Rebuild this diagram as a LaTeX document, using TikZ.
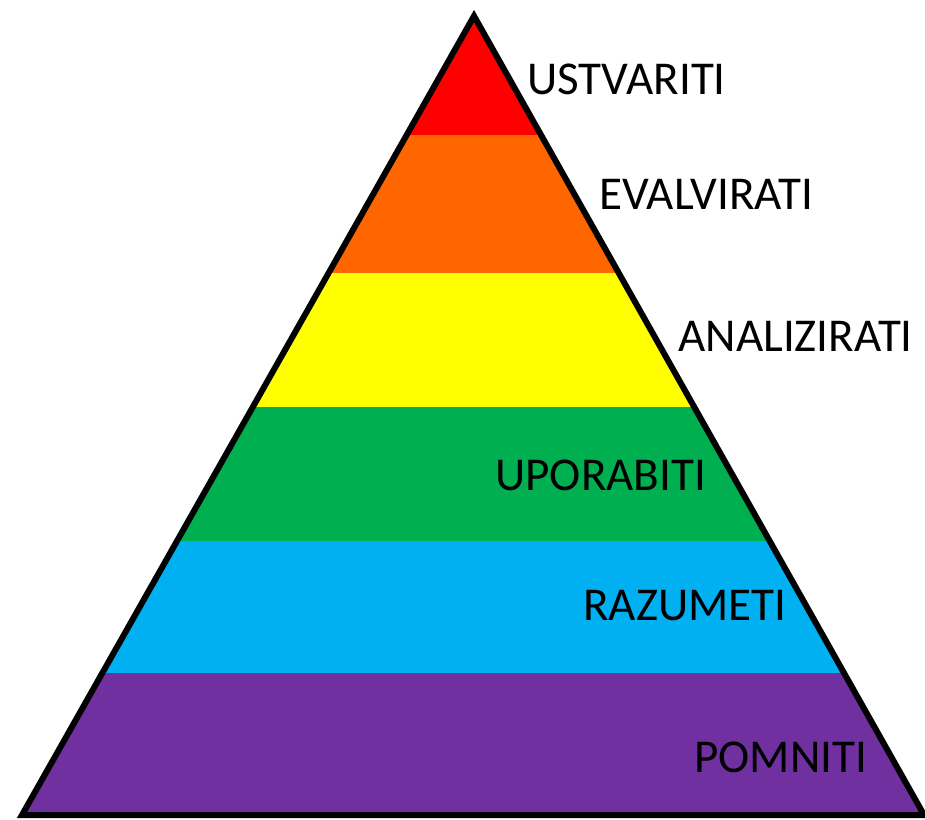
\documentclass[tikz,border=0pt]{standalone}
\usepackage{fontspec}
\setmainfont{Carlito}
\usetikzlibrary{positioning,calc}
\definecolor{lRed}{HTML}{FF0000}
\definecolor{lOrange}{HTML}{FF6600}
\definecolor{lYellow}{HTML}{FFFF00}
\definecolor{lGreen}{HTML}{00B050}
\definecolor{lBlue}{HTML}{00B0F0}
\definecolor{lPurple}{HTML}{7030A0}
\tikzset{
  pOutline/.style={line width=0.12cm, line join=miter, miter limit=20, draw=black},
  pLabel/.style={anchor=base west, inner sep=0pt, font=\fontsize{26.8}{32}\selectfont},
}

\begin{document}
\begin{tikzpicture}[x=0.02cm, y=-0.02cm]
\useasboundingbox (0,0) rectangle (925,820);
\coordinate (top) at (474,16); \coordinate (bl) at (22,815); \coordinate (br) at (924,815);
% bands, from the apex down
\begin{scope}
\clip (top) -- (bl) -- (br) -- cycle;
\foreach \ya/\yb/\col in {0/135/lRed, 135/273/lOrange, 273/407/lYellow, 407/541/lGreen, 541/673/lBlue, 673/830/lPurple}
  \fill[\col] (0,\ya) rectangle (925,\yb);
\end{scope}
\clip (0,0) rectangle (925,820);
\draw[pOutline] (top) -- (bl) -- (br) -- cycle;
\node[pLabel] (ustvariti) at (527,95) {USTVARITI};
\node[pLabel] (evalvirati) at (599,210) {EVALVIRATI};
\node[pLabel] (analizirati) at (678,352) {ANALIZIRATI};
\node[pLabel] (uporabiti) at (495,490) {UPORABITI};
\node[pLabel] (razumeti) at (583,620) {RAZUMETI};
\node[pLabel] (pomniti) at (694,772) {POMNITI};
\end{tikzpicture}
\end{document}
